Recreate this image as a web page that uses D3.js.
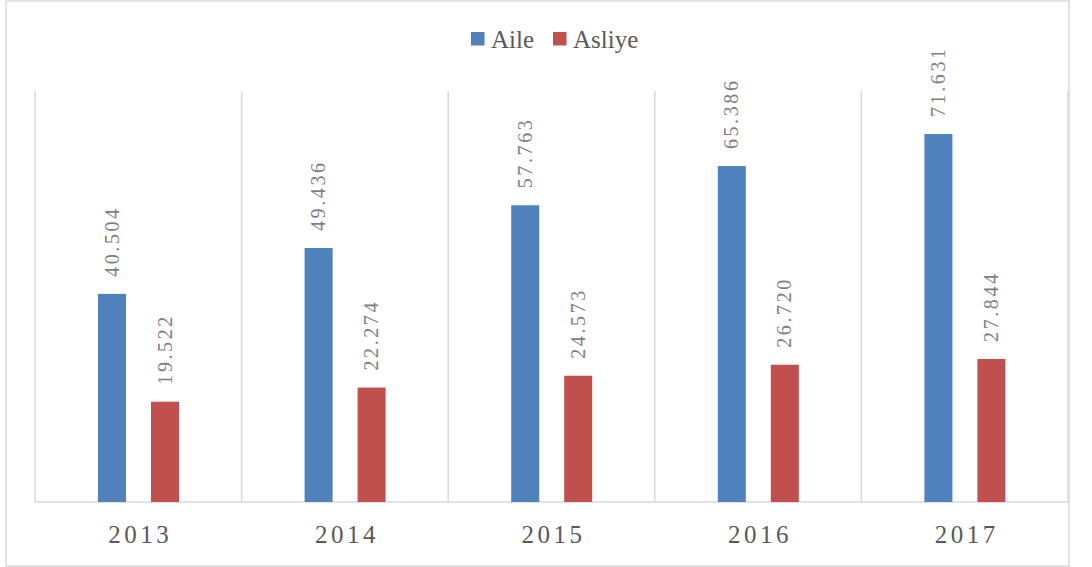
<!DOCTYPE html>
<html>
<head>
<meta charset="utf-8">
<script src="https://cdn.jsdelivr.net/npm/d3@7"></script>
<style>
  body { margin: 0; background: #fff; }
  text { font-family: "Liberation Serif", "Times New Roman", serif; }
</style>
</head>
<body>
<div id="chart"></div>
<script>
var width = 1092;
var height = 567;

var years = ["2013", "2014", "2015", "2016", "2017"];
var seriesNames = ["Aile", "Asliye"];
var aile = [40.504, 49.436, 57.763, 65.386, 71.631];
var asliye = [19.522, 22.274, 24.573, 26.720, 27.844];
var colors = ["#4f81bd", "#c0504d"];

var rows = years.map(function (y, i) {
  return { year: y, values: [aile[i], asliye[i]] };
});

var svg = d3.select("#chart")
  .append("svg")
  .attr("width", width)
  .attr("height", height);

// outer frame
svg.append("rect")
  .attr("x", 6).attr("y", 1)
  .attr("width", 1063).attr("height", 565)
  .attr("fill", "none")
  .attr("stroke", "#d9d9d9")
  .attr("stroke-width", 1.5);

var plotLeft = 35, plotRight = 1068, plotTop = 91, plotBottom = 502;

var x0 = d3.scaleBand().domain(years).range([plotLeft, plotRight]);
var x1 = d3.scaleBand().domain(seriesNames)
  .range([63, 144])
  .paddingInner(25 / 53);
var y = d3.scaleLinear().domain([0, 80]).range([plotBottom, plotTop]);

// vertical separators
var seps = years.map(function (d) { return x0(d); }).concat([plotRight]);
svg.selectAll("line.sep")
  .data(seps)
  .enter()
  .append("line")
  .attr("class", "sep")
  .attr("x1", function (d) { return d; })
  .attr("x2", function (d) { return d; })
  .attr("y1", plotTop)
  .attr("y2", plotBottom)
  .attr("stroke", "#d9d9d9")
  .attr("stroke-width", 1.5);

// baseline
svg.append("line")
  .attr("x1", plotLeft).attr("x2", plotRight)
  .attr("y1", plotBottom).attr("y2", plotBottom)
  .attr("stroke", "#d9d9d9")
  .attr("stroke-width", 1.5);

var groups = svg.selectAll("g.year")
  .data(rows)
  .enter()
  .append("g")
  .attr("class", "year")
  .attr("transform", function (d) { return "translate(" + x0(d.year) + ",0)"; });

var cells = groups.selectAll("g.bar")
  .data(function (d) {
    return d.values.map(function (v, i) { return { name: seriesNames[i], value: v, i: i }; });
  })
  .enter()
  .append("g")
  .attr("class", "bar");

cells.append("rect")
  .attr("x", function (d) { return x1(d.name); })
  .attr("y", function (d) { return y(d.value); })
  .attr("width", x1.bandwidth())
  .attr("height", function (d) { return plotBottom - y(d.value); })
  .attr("fill", function (d) { return colors[d.i]; });

var fmt = d3.format(".3f");
cells.append("text")
  .attr("transform", function (d) {
    var cx = x1(d.name) + x1.bandwidth() / 2;
    return "translate(" + cx + "," + (y(d.value) - 17) + ") rotate(-90)";
  })
  .attr("dy", "0.33em")
  .attr("font-size", 20)
  .attr("letter-spacing", 2.6)
  .attr("fill", "#7f7f7f")
  .text(function (d) { return fmt(d.value); });

// year labels
svg.selectAll("text.yr")
  .data(years)
  .enter()
  .append("text")
  .attr("class", "yr")
  .attr("x", function (d) { return x0(d) + x0.bandwidth() / 2 + 2; })
  .attr("y", 543)
  .attr("text-anchor", "middle")
  .attr("font-size", 25)
  .attr("letter-spacing", 3.5)
  .attr("fill", "#595959")
  .text(function (d) { return d; });

// legend
var legendX = [471, 553];
var legend = svg.selectAll("g.legend")
  .data(seriesNames)
  .enter()
  .append("g")
  .attr("class", "legend")
  .attr("transform", function (d, i) { return "translate(" + legendX[i] + ",32)"; });

legend.append("rect")
  .attr("width", 13.5).attr("height", 13.5)
  .attr("fill", function (d, i) { return colors[i]; });

legend.append("text")
  .attr("x", 20)
  .attr("y", 15.5)
  .attr("font-size", 25)
  .attr("fill", "#595959")
  .text(function (d) { return d; });
</script>
</body>
</html>
